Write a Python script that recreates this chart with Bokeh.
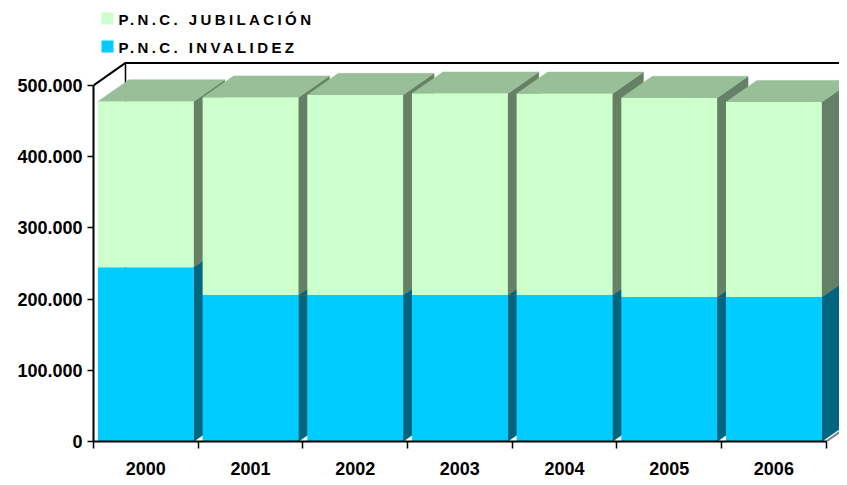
import numpy as np
from bokeh.plotting import figure
from bokeh.models import Range1d, FixedTicker
from bokeh.layouts import column
from bokeh.embed import file_html
from bokeh.resources import INLINE
from bokeh.core.properties import value

# ---- data ----
years = ["2000", "2001", "2002", "2003", "2004", "2005", "2006"]
invalidez = [244800, 205600, 205600, 205500, 205500, 202800, 202700]
jubilacion = [232600, 277200, 280900, 282900, 282700, 279500, 273800]
series_names = ["P.N.C. JUBILACIÓN", "P.N.C. INVALIDEZ"]
y_ticks = [0, 100000, 200000, 300000, 400000, 500000]

# ---- styles ----
INV_FRONT, INV_SIDE = "#00CCFF", "#006680"
JUB_FRONT, JUB_SIDE, JUB_TOP = "#CCFFCC", "#668066", "#99BF99"
FONT_NAME = "Liberation Sans"
FONT = value(FONT_NAME)
BAR_W = 0.915
BDX, BDY = 0.296, 30400      # bar depth offset (x units, y units)
WDX, WDY = 0.3057, 31500     # wall depth offset
W = 839
LEFT = 93

xi = np.arange(len(years), dtype=float)
inv = np.array(invalidez, dtype=float)
tot = inv + np.array(jubilacion, dtype=float)
left = xi - BAR_W / 2
right = xi + BAR_W / 2

# ---- legend figure (coordinates = pixels) ----
LG_H = 56
lg = figure(width=W, height=LG_H, x_range=Range1d(LEFT, W), y_range=Range1d(LG_H, 0),
            output_backend="svg", toolbar_location=None,
            min_border_left=LEFT, min_border_right=0, min_border_top=0, min_border_bottom=0,
            x_axis_type=None, y_axis_type=None, outline_line_color=None,
            styles={"letter-spacing": "3.4px"})
lg.grid.visible = False
lg.rect(x=[107, 107], y=[18, 46], width=12, height=12,
        fill_color=[JUB_FRONT, INV_FRONT], line_color=None)
lg.text(x=[118, 118], y=[19, 47], text=series_names, text_baseline="alphabetic",
        text_font=FONT, text_font_style="bold", text_font_size="15px", text_color="black")

# ---- main figure ----
p = figure(width=W, height=421, x_range=Range1d(-0.5, 6.627), y_range=Range1d(0, 537700),
           output_backend="svg", toolbar_location=None,
           min_border_left=LEFT, min_border_right=0, min_border_top=2, min_border_bottom=34,
           outline_line_color=None)
p.grid.visible = False

x0 = -0.5
xn = len(years) - 0.5
ytop = y_ticks[-1]
# walls
p.line(x=[x0, x0 + WDX, xn + WDX], y=[ytop, ytop + WDY, ytop + WDY], line_color="black", line_width=2)
p.line(x=[x0 + WDX, x0 + WDX], y=[WDY, ytop + WDY], line_color="black", line_width=1.5)
p.line(x=[xn, xn + WDX], y=[0, WDY], line_color="#808080", line_width=2)

# sides
side_xs, side_ys, side_c = [], [], []
for i in range(len(years)):
    r = right[i]
    side_xs.append([r, r + BDX, r + BDX, r]); side_ys.append([0, BDY, inv[i] + BDY, inv[i]]); side_c.append(INV_SIDE)
    side_xs.append([r, r + BDX, r + BDX, r]); side_ys.append([inv[i], inv[i] + BDY, tot[i] + BDY, tot[i]]); side_c.append(JUB_SIDE)
p.patches(xs=side_xs, ys=side_ys, fill_color=side_c, line_color=side_c, line_width=0.5)

# tops
top_xs = [[left[i], right[i], right[i] + BDX, left[i] + BDX] for i in range(len(years))]
top_ys = [[tot[i], tot[i], tot[i] + BDY, tot[i] + BDY] for i in range(len(years))]
p.patches(xs=top_xs, ys=top_ys, fill_color=JUB_TOP, line_color=JUB_TOP, line_width=0.5)

# fronts
p.vbar(x=xi, bottom=0, top=inv, width=BAR_W, fill_color=INV_FRONT, line_color=None)
p.vbar(x=xi, bottom=inv, top=tot, width=BAR_W, fill_color=JUB_FRONT, line_color=None)

# y axis
ya = p.yaxis[0]
ya.ticker = FixedTicker(ticks=y_ticks)
ya.major_label_overrides = {t: f"{t:,}".replace(",", ".") for t in y_ticks}
ya.bounds = (0, ytop)
ya.axis_line_width = 2
ya.major_tick_out = 6
ya.major_tick_in = 0
ya.major_tick_line_width = 1.5
ya.minor_tick_line_color = None
ya.major_label_standoff = 5
ya.major_label_text_font = FONT_NAME
ya.major_label_text_font_style = "bold"
ya.major_label_text_font_size = "18px"
ya.major_label_text_color = "black"

# x axis
xa = p.xaxis[0]
xa.ticker = FixedTicker(ticks=list(xi), minor_ticks=list(xi - 0.5) + [xn])
xa.major_label_overrides = {i: y for i, y in enumerate(years)}
xa.bounds = (x0, xn)
xa.axis_line_width = 2
xa.major_tick_out = 0
xa.major_tick_in = 0
xa.minor_tick_out = 7
xa.minor_tick_in = 0
xa.minor_tick_line_width = 1.5
xa.minor_tick_line_color = "black"
xa.major_label_standoff = 13
xa.major_label_text_font = FONT_NAME
xa.major_label_text_font_style = "bold"
xa.major_label_text_font_size = "18px"
xa.major_label_text_color = "black"

layout = column(lg, p)
open("out.html", "w").write(file_html(layout, INLINE))
